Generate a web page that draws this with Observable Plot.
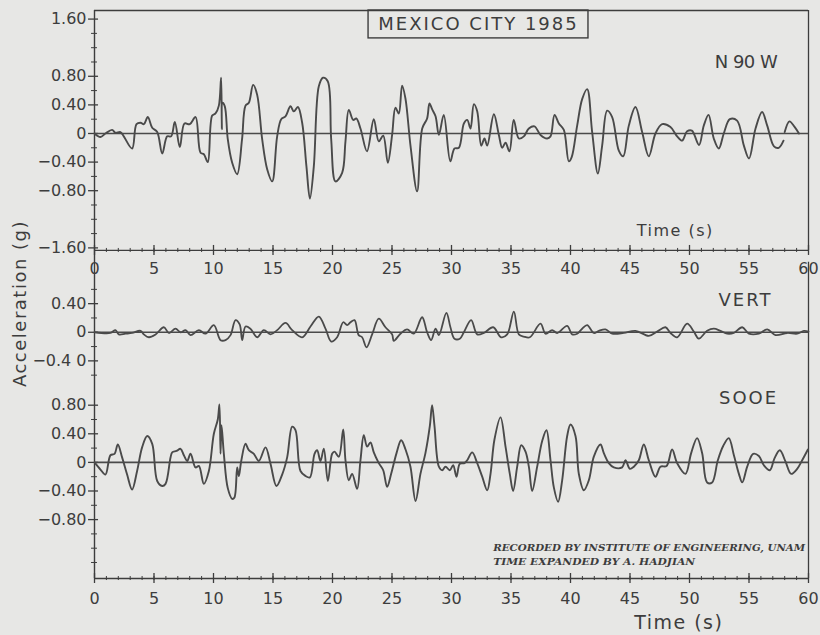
<!DOCTYPE html>
<html><head><meta charset="utf-8">
<script src="https://cdn.jsdelivr.net/npm/d3@7"></script>
<script src="https://cdn.jsdelivr.net/npm/@observablehq/plot@0.6"></script>
<style>html,body{margin:0;padding:0;background:#e7e7e5;} svg{display:block}</style>
</head><body><div id="chart"></div>
<script>
// ---- data: [time (s), acceleration (g)] read from the record ----
const n90w = [[0,0],[0.5,-0.05],[0.92,0],[1.48,0.05],[1.76,0.01],[2.18,0.02],[2.46,-0.04],[3.16,-0.21],[3.53,0.13],[3.87,0.15],[4.15,0.13],[4.48,0.23],[4.85,0.08],[5.27,0.02],[5.69,-0.28],[6.11,-0.04],[6.44,-0.04],[6.75,0.16],[7.17,-0.19],[7.56,0.14],[8.01,0.13],[8.49,0.23],[8.91,-0.27],[9.19,-0.29],[9.52,-0.40],[9.89,0.25],[10.17,0.28],[10.45,0.39],[10.64,0.78],[10.7,0.06],[10.76,0.43],[10.95,0.38],[11.2,-0.08],[11.57,-0.41],[11.99,-0.57],[12.4,-0.08],[12.69,0.39],[12.97,0.43],[13.33,0.68],[13.67,0.54],[14.09,-0.08],[14.51,-0.50],[14.93,-0.67],[15.35,-0.04],[15.69,0.20],[16.05,0.24],[16.47,0.38],[16.75,0.31],[17.09,0.37],[17.45,0.15],[17.81,-0.46],[18.1,-0.91],[18.43,-0.46],[18.85,0.66],[19.2,0.78],[19.6,0.73],[19.89,-0.08],[20.25,-0.67],[20.81,-0.55],[21.09,-0.11],[21.37,0.33],[21.74,0.19],[22.0,0.21],[22.35,0.07],[22.9,-0.25],[23.47,0.20],[23.89,-0.11],[24.26,-0.03],[24.65,-0.41],[25.01,-0.02],[25.29,0.36],[25.57,0.28],[25.85,0.67],[26.13,0.49],[26.56,-0.18],[27.11,-0.81],[27.54,0.07],[27.95,0.21],[28.15,0.42],[28.37,0.34],[28.66,0.24],[28.94,-0.02],[29.35,0.26],[29.9,-0.39],[30.25,-0.21],[30.62,-0.2],[31.04,0.14],[31.32,0.19],[31.6,0.07],[31.88,0.41],[32.16,0.31],[32.5,-0.17],[32.77,-0.07],[33.0,-0.17],[33.56,0.27],[33.98,-0.02],[34.26,-0.20],[34.54,-0.13],[34.87,-0.25],[35.23,0.19],[35.66,-0.07],[36.08,-0.04],[36.5,0.07],[36.97,0.1],[37.48,-0.02],[38.04,-0.07],[38.32,-0.04],[38.66,0.26],[39.02,0.14],[39.44,0.05],[39.86,-0.39],[40.1,-0.33],[40.56,0.11],[40.98,0.48],[41.4,0.62],[41.82,0.02],[42.3,-0.56],[42.66,-0.17],[43.08,0.32],[43.5,0.23],[44.06,-0.24],[44.43,-0.32],[44.9,0.11],[45.46,0.37],[46.02,0.02],[46.58,-0.32],[47.14,0],[47.7,0.13],[48.4,0.09],[48.96,-0.04],[49.38,-0.10],[49.8,0.03],[50.2,0.04],[50.8,-0.16],[51.2,0.11],[51.6,0.26],[52.04,-0.07],[52.46,-0.21],[52.88,0],[53.39,0.2],[54.0,0.18],[54.57,-0.17],[55.0,-0.35],[55.55,0.07],[56.1,0.3],[56.53,0.11],[57.1,-0.18],[57.5,-0.2],[57.9,-0.1],[57.95,null],[58.0,0.02],[58.4,0.17],[58.8,0.1],[59.2,0.0]];

const vert = [[0,0],[1.34,-0.01],[1.76,0.03],[2.04,-0.03],[2.6,-0.02],[3.16,-0.01],[3.87,0.02],[4.15,-0.03],[4.57,-0.07],[5.13,-0.03],[5.83,0.07],[6.25,-0.01],[6.81,0.05],[7.23,0],[7.65,0.03],[8.07,-0.04],[8.77,0.03],[9.33,-0.02],[10.03,0.1],[10.59,-0.11],[11.01,-0.11],[11.43,-0.04],[11.85,0.17],[12.2,0.11],[12.41,-0.11],[12.69,0.08],[13.1,0.05],[13.67,-0.07],[14.23,0.03],[14.79,-0.03],[15.35,0.03],[16.05,0.13],[16.61,0.03],[17.45,-0.07],[18.15,0.08],[18.85,0.22],[19.41,0.05],[19.89,-0.13],[20.39,-0.07],[20.9,0.14],[21.23,0.1],[21.51,0.14],[21.85,0.17],[22.2,-0.04],[22.49,-0.07],[22.86,-0.21],[23.33,-0.03],[23.89,0.19],[24.45,0.07],[25.01,-0.03],[25.15,-0.12],[25.71,-0.02],[26.27,0.04],[26.83,-0.02],[27.53,0.21],[27.95,0],[28.29,-0.11],[28.66,0.05],[28.94,-0.04],[29.57,0.27],[29.91,0.07],[30.25,-0.09],[30.7,-0.09],[31.04,0],[31.65,0.17],[32.16,-0.03],[32.72,-0.01],[33.5,0.07],[34.17,-0.07],[34.68,-0.03],[35.24,0.29],[35.66,-0.03],[36.08,-0.06],[36.58,-0.07],[37.48,0.12],[37.9,-0.02],[38.46,0.03],[38.88,-0.01],[39.72,0.09],[40.14,-0.03],[40.56,-0.02],[40.98,0.05],[41.4,0.1],[41.96,-0.01],[42.38,0.02],[42.94,0.04],[43.5,-0.02],[44.48,-0.01],[45.46,0.02],[46.58,-0.05],[47.28,0.01],[47.98,0.07],[48.4,-0.01],[48.96,-0.07],[49.8,0.12],[50.36,0.01],[50.78,-0.09],[51.48,0.02],[52.04,0.05],[52.6,0.02],[53.16,-0.02],[53.72,-0.01],[54.43,0.07],[54.99,-0.02],[55.83,-0.02],[56.53,0.04],[57.23,-0.04],[58.21,-0.01],[59.05,-0.02],[59.61,0.02],[60,0.01]];

const sooe = [[0,0],[0.5,-0.1],[0.92,-0.17],[1.34,0.1],[1.68,0.12],[1.96,0.25],[2.32,0.07],[2.74,-0.17],[3.16,-0.38],[3.58,-0.12],[4.0,0.21],[4.43,0.37],[4.85,0.26],[5.27,-0.26],[5.69,-0.33],[5.97,-0.3],[6.39,0.07],[6.53,0.14],[6.89,0.16],[7.23,0.19],[7.51,0.1],[7.79,0.02],[8.07,0.12],[8.49,-0.07],[8.77,-0.05],[9.19,-0.3],[9.61,-0.12],[10.03,0.4],[10.36,0.6],[10.5,0.81],[10.59,0.12],[10.67,0.52],[10.87,0.12],[11.2,-0.36],[11.57,-0.51],[11.76,-0.49],[11.99,-0.07],[12.13,-0.19],[12.33,0.02],[12.69,0.26],[12.97,0.17],[13.39,0.12],[13.81,0.02],[14.37,0.21],[14.79,-0.02],[15.29,-0.33],[15.77,-0.17],[16.19,0.07],[16.61,0.5],[16.89,0.45],[17.31,-0.12],[17.73,-0.19],[18.1,-0.21],[18.49,0.12],[18.71,0.17],[18.99,0.02],[19.27,0.19],[19.61,-0.26],[19.97,0.12],[20.17,0.15],[20.53,0.08],[20.9,0.46],[21.09,0.03],[21.37,-0.25],[21.65,-0.16],[22.07,-0.37],[22.35,0.03],[22.63,0.38],[22.91,0.22],[23.19,0.28],[23.47,0.14],[23.89,-0.01],[24.26,-0.11],[24.59,-0.34],[24.93,-0.16],[25.38,0.13],[25.77,0.31],[26.14,0.18],[26.55,-0.06],[26.98,-0.54],[27.39,-0.16],[27.81,0.13],[28.18,0.51],[28.37,0.8],[28.57,0.51],[28.94,-0.06],[29.22,-0.11],[29.5,-0.06],[29.86,-0.11],[30.14,-0.04],[30.42,-0.2],[30.7,-0.02],[31.09,-0.01],[31.32,0.03],[31.74,0.14],[32.16,-0.01],[32.58,-0.2],[33.0,-0.39],[33.28,-0.16],[33.61,0.32],[34.12,0.63],[34.54,0.22],[34.9,-0.16],[35.18,-0.4],[35.52,-0.06],[35.86,0.24],[36.22,0.15],[36.5,-0.06],[36.78,-0.4],[37.2,-0.06],[37.62,0.3],[37.98,0.45],[38.32,0.03],[38.6,-0.35],[38.96,-0.55],[39.3,-0.25],[39.72,0.37],[40.0,0.53],[40.42,0.37],[40.7,-0.16],[41.12,-0.39],[41.54,-0.25],[41.96,0.08],[42.52,0.25],[42.8,0.13],[43.22,-0.01],[43.64,-0.07],[44.34,-0.07],[44.62,0.03],[44.99,-0.09],[45.32,-0.06],[45.74,0.03],[46.16,0.25],[46.58,0.03],[47.14,-0.2],[47.56,-0.06],[48.07,-0.05],[48.54,0.18],[48.96,-0.01],[49.66,-0.16],[50.14,0.13],[50.64,0.34],[51.06,0.13],[51.48,-0.28],[51.9,-0.28],[52.38,0.03],[52.83,0.23],[53.3,0.34],[53.73,0.1],[54.15,-0.16],[54.43,-0.28],[54.85,-0.06],[55.35,0.12],[55.83,0.09],[56.25,-0.04],[56.75,-0.11],[57.15,0.06],[57.59,0.17],[58.07,0.01],[58.54,-0.16],[59.05,-0.09],[59.47,0.03],[59.95,0.18]];

// tick values and labels
const timeTicks = [0,5,10,15,20,25,30,35,40,45,50,55,60];
const timeMinor = d3.range(0, 61, 1);
const n90wTicks = [1.6,0.8,0.4,0,-0.4,-0.8,-1.6];
const n90wTickLabels = ["1.60","0.80","0.40","0","\u22120.40","\u22120.80","\u22121.60"];
const n90wMinor = [1.4,1.2,1.0,0.6,0.2,-0.2,-0.6,-1.0,-1.2,-1.4];
const vertTicks = [0.4,0,-0.4];
const vertTickLabels = ["0.40","0","\u22120.4 0"];
const vertMinor = [0.6,0.2,-0.2,-0.6];
const sooeTicks = [0.8,0.4,0,-0.4,-0.8];
const sooeTickLabels = ["0.80","0.40","0","\u22120.40","\u22120.80"];
const sooeMinor = [0.6,0.2,-0.2,-0.6,-1.0,-1.2,-1.4];

const title = "MEXICO CITY 1985";
const yLabel = "Acceleration (g)";
const xLabel = "Time (s)";
const seriesNames = ["N 90 W", "VERT", "SOOE"];
const caption = ["RECORDED BY INSTITUTE OF ENGINEERING, UNAM", "TIME EXPANDED BY A. HADJIAN"];
const captionWidths = [312, 202];

// ---- layout (data units: seconds, g) ----
const OFF = {n90w: 0, vert: -2.78, sooe: -4.60};
const L = {top: 1.72, topAxis: -1.636, botAxis: -6.224, rightBotStart: -1.80};
const ink = "#3d3d3d", lineInk = "#4a4a4a";
const font = "DejaVu Sans";

const yv = (off) => d => d[1] == null ? NaN : d[1] + off;
const majX = (axis) => Plot.ruleX(timeTicks, {x: d => d, y1: axis - 0.07, y2: axis + 0.07, stroke: ink, strokeWidth: 1.3});
const minX = (axis) => Plot.ruleX(timeMinor, {x: d => d, y1: axis - 0.028, y2: axis + 0.028, stroke: ink, strokeWidth: 1});
const majY = (vals, off) => Plot.ruleY(vals, {y: d => d + off, x1: -0.5, x2: 0.34, stroke: ink, strokeWidth: 1.3});
const minY = (vals, off) => Plot.ruleY(vals, {y: d => d + off, x1: -0.25, x2: 0.25, stroke: ink, strokeWidth: 1});
const labY = (vals, labels, off) => Plot.text(vals, {x: 0, y: d => d + off, text: (d, i) => labels[i], textAnchor: "end", dx: -8, fontSize: 16, fill: ink, fontFamily: font});
const labX = (axis, dy) => Plot.text(timeTicks, {x: d => d, y: axis, text: d => String(d), dy, fontSize: 16, fill: ink, fontFamily: font});

const chart = Plot.plot({
  width: 820, height: 635,
  marginLeft: 94, marginRight: 12, marginTop: 0, marginBottom: 0,
  x: {domain: [0, 60], axis: null},
  y: {domain: [-7.021, 1.860], axis: null},
  style: {background: "#e7e7e5", color: ink, fontFamily: font},
  marks: [
    // frames
    Plot.ruleY([L.top], {x1: 0, x2: 60, stroke: ink, strokeWidth: 1.3}),
    Plot.ruleY([L.topAxis], {x1: 0, x2: 60, stroke: ink, strokeWidth: 1.3}),
    Plot.ruleY([L.botAxis], {x1: 0, x2: 60, stroke: ink, strokeWidth: 1.3}),
    Plot.ruleX([0], {y1: L.botAxis, y2: L.top, stroke: ink, strokeWidth: 1.4}),
    Plot.ruleX([60], {y1: L.topAxis, y2: L.top, stroke: ink, strokeWidth: 1.3}),
    Plot.ruleX([60], {y1: L.botAxis, y2: L.rightBotStart, stroke: ink, strokeWidth: 1.3}),
    // x ticks
    majX(L.topAxis), minX(L.topAxis), labX(L.topAxis, 18),
    majX(L.botAxis), minX(L.botAxis), labX(L.botAxis, 20),
    // y ticks
    majY(n90wTicks, OFF.n90w), minY(n90wMinor, OFF.n90w), labY(n90wTicks, n90wTickLabels, OFF.n90w),
    majY(vertTicks, OFF.vert), minY(vertMinor, OFF.vert), labY(vertTicks, vertTickLabels, OFF.vert),
    majY(sooeTicks, OFF.sooe), minY(sooeMinor, OFF.sooe), labY(sooeTicks, sooeTickLabels, OFF.sooe),
    // baselines
    Plot.ruleY([OFF.n90w, OFF.vert, OFF.sooe], {x1: 0, x2: 60, stroke: lineInk, strokeWidth: 1.6}),
    // traces
    Plot.line(n90w, {x: d => d[0], y: yv(OFF.n90w), stroke: lineInk, strokeWidth: 1.9, curve: "catmull-rom"}),
    Plot.line(vert, {x: d => d[0], y: yv(OFF.vert), stroke: lineInk, strokeWidth: 1.8, curve: "catmull-rom"}),
    Plot.line(sooe, {x: d => d[0], y: yv(OFF.sooe), stroke: lineInk, strokeWidth: 1.9, curve: "catmull-rom"}),
    // title box
    Plot.rect([title], {x1: 23.03, x2: 41.51, y1: 1.33, y2: L.top, fill: "none", stroke: ink, strokeWidth: 1.4}),
    Plot.text([title], {x: 32.27, y: 1.524, text: d => d, fontSize: 18, fill: ink, fontFamily: font}),
    // series names
    Plot.text([seriesNames[0]], {x: 54.75, y: 0.99, text: d => d, fontSize: 18, fill: ink, fontFamily: font}),
    Plot.text([seriesNames[1]], {x: 54.7, y: -2.336, text: d => d, fontSize: 18, fill: ink, fontFamily: font}),
    Plot.text([seriesNames[2]], {x: 54.96, y: -3.706, text: d => d, fontSize: 18, fill: ink, fontFamily: font}),
    // axis titles
    Plot.text([xLabel], {x: 48.8, y: -1.357, text: d => d, fontSize: 16, fill: ink, fontFamily: font}),
    Plot.text([xLabel], {x: 49.1, y: -6.839, text: d => d, fontSize: 19, fill: ink, fontFamily: font}),
    Plot.text([yLabel], {x: -6.22, y: -2.378, text: d => d, rotate: -90, fontSize: 18, fill: ink, fontFamily: font}),
    // caption
    Plot.text(caption, {x: 33.5, y: (d, i) => -5.79 - i * 0.196, text: d => d, textAnchor: "start", fontSize: 10, fontStyle: "italic", fontWeight: "bold", fill: ink, fontFamily: "DejaVu Serif"})
  ]
});
// letter spacing / fitted widths for the lettering
chart.querySelectorAll("text").forEach(t => {
  const s = t.textContent;
  if (s === title) t.setAttribute("letter-spacing", "2");
  if (s === "VERT" || s === "SOOE") t.setAttribute("letter-spacing", "2");
  if (s === "N 90 W") t.setAttribute("letter-spacing", "-0.5");
  if (s === xLabel || s === yLabel) t.setAttribute("letter-spacing", "1.5");
  const ci = caption.indexOf(s);
  if (ci >= 0) { t.setAttribute("textLength", captionWidths[ci]); t.setAttribute("lengthAdjust", "spacingAndGlyphs"); }
});
document.getElementById("chart").append(chart);
</script></body></html>
